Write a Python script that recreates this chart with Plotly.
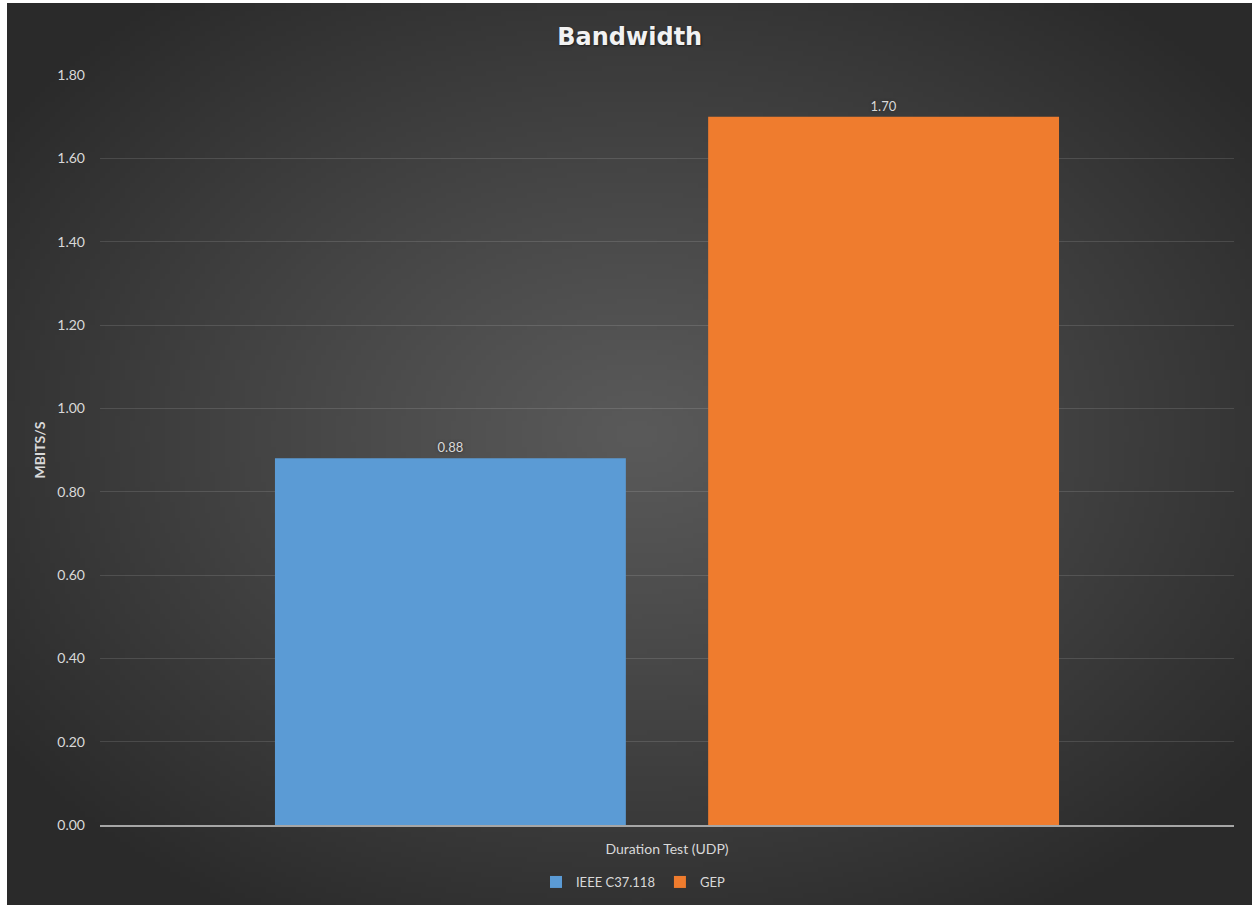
import base64
import struct
import zlib

import numpy as np
import plotly.graph_objects as go

# ---- data ----
categories = ["Duration Test (UDP)"]
series_names = ["IEEE C37.118", "GEP"]
ieee_values = [0.88]
gep_values = [1.70]
series_colors = ["#5b9bd5", "#ef7c2e"]

W, H = 1252, 905


def radial_png(w, h, inner, outer):
    """Build a small PNG (as data URI) holding an elliptical radial gradient."""
    yy, xx = np.mgrid[0:h, 0:w]
    cx, cy = w * 0.50, h * 0.47
    d = np.sqrt(((xx - cx) / (w * 0.62)) ** 2 + ((yy - cy) / (h * 0.62)) ** 2)
    t = np.clip(d, 0, 1) ** 1.1
    inner = np.array(inner, float)
    outer = np.array(outer, float)
    img = (inner[None, None, :] * (1 - t[..., None]) + outer[None, None, :] * t[..., None])
    img = img.astype(np.uint8)
    raw = b"".join(b"\x00" + img[r].tobytes() for r in range(h))

    def chunk(tag, data):
        c = struct.pack(">I", len(data)) + tag + data
        return c + struct.pack(">I", zlib.crc32(tag + data) & 0xFFFFFFFF)

    png = b"\x89PNG\r\n\x1a\n"
    png += chunk(b"IHDR", struct.pack(">IIBBBBB", w, h, 8, 2, 0, 0, 0))
    png += chunk(b"IDAT", zlib.compress(raw, 9))
    png += chunk(b"IEND", b"")
    return "data:image/png;base64," + base64.b64encode(png).decode()


bg_src = radial_png(250, 180, (90, 90, 90), (42, 42, 42))

label_font = dict(color="#d9d9d9", size=13, family="Lato", shadow="0px 0px 3px #2a2a2a")

fig = go.Figure()
for name, vals, col in zip(series_names, [ieee_values, gep_values], series_colors):
    fig.add_trace(go.Bar(
        x=categories, y=vals, name=name,
        marker=dict(color=col, line=dict(width=0)),
        text=[f"{v:.2f}" for v in vals],
        textposition="outside",
        textfont=label_font,
        cliponaxis=False,
    ))

left_px, top_px = 7, 3
plot_w, plot_h = W - 118, H - 155


def px_x(p):
    return (p - 100) / plot_w


def px_y(p):
    return 1 - (p - 75) / plot_h


fig.update_layout(
    width=W, height=H,
    paper_bgcolor="#2e2e2e",
    plot_bgcolor="rgba(0,0,0,0)",
    margin=dict(l=100, r=18, t=75, b=80, autoexpand=False),
    barmode="group",
    bargap=0.236,
    bargroupgap=0.19,
    font=dict(family="Lato", color="#d9d9d9"),
    title=dict(
        text="<b>Bandwidth</b>",
        x=0.503, xanchor="center", y=1 - 37 / H, yanchor="middle",
        font=dict(size=24, color="#f2f2f2", family="DejaVu Sans",
                  shadow="1px 1px 2px #1e1e1e"),
    ),
    images=[dict(
        source=bg_src, xref="paper", yref="paper",
        x=px_x(left_px), y=px_y(top_px),
        sizex=(W + 10 - left_px) / plot_w, sizey=(H + 10 - top_px) / plot_h,
        xanchor="left", yanchor="top", sizing="stretch", layer="below",
    )],
    shapes=[
        # thin white page margin on the left and top of the chart card
        dict(type="rect", xref="paper", yref="paper", layer="below",
             x0=px_x(-5), x1=px_x(left_px), y0=px_y(H + 5), y1=px_y(-5),
             fillcolor="white", line=dict(width=0)),
        dict(type="rect", xref="paper", yref="paper", layer="below",
             x0=px_x(-5), x1=px_x(W + 5), y0=px_y(top_px), y1=px_y(-5),
             fillcolor="white", line=dict(width=0)),
    ],
    legend=dict(
        orientation="h", x=0.47, xanchor="center", y=-0.076, yanchor="middle",
        font=dict(size=13, color="#d9d9d9", family="Lato"),
        bgcolor="rgba(0,0,0,0)", itemwidth=30, traceorder="normal",
    ),
    showlegend=True,
)
fig.update_yaxes(
    range=[0, 1.8], dtick=0.2, tickformat=".2f",
    showgrid=True, gridcolor="rgba(255,255,255,0.12)", gridwidth=1,
    zeroline=False, showline=False,
    ticks="", ticklabelstandoff=14,
    tickfont=dict(size=14, color="#d9d9d9", family="Lato"),
    title=dict(text="<b>MBITS/S</b>",
               font=dict(size=14, color="#d9d9d9", family="Lato"), standoff=8),
)
fig.update_xaxes(
    showline=True, linecolor="#a6a6a6", linewidth=2,
    showgrid=False, ticks="", ticklabelstandoff=10,
    tickfont=dict(size=14, color="#d9d9d9", family="Lato"),
)

fig.write_html("out.html")
